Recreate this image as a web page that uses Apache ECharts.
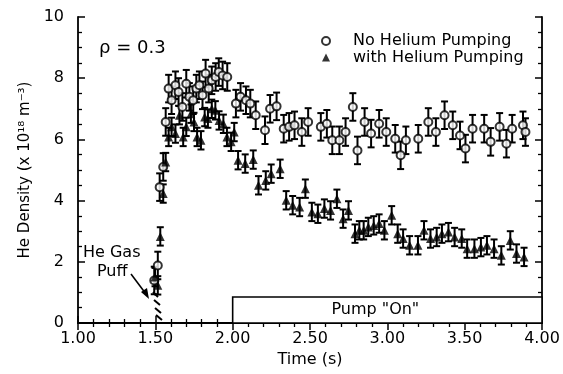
<!doctype html>
<html>
<head>
<meta charset="utf-8">
<title>He Density</title>
<script src="https://cdn.jsdelivr.net/npm/echarts@6/dist/echarts.min.js"></script>
<style>
    html, body { margin: 0; padding: 0; background: #fff; }
    #main { width: 563px; height: 374px; }
</style>
</head>
<body>
<div id="main"></div>
<script type="text/javascript">

    /* no helium pumping (open circles) */
    var noPumpTime = [1.493, 1.516, 1.528, 1.551, 1.567, 1.586, 1.605, 1.63, 1.65, 1.675, 1.70, 1.72, 1.745, 1.765, 1.785,
        1.805, 1.825, 1.845, 1.865, 1.89, 1.91, 1.935, 1.965, 2.021, 2.051, 2.086, 2.114, 2.149, 2.209, 2.242, 2.284,
        2.33, 2.365, 2.40, 2.447, 2.488, 2.57, 2.609, 2.644, 2.69, 2.73, 2.777, 2.807, 2.853, 2.895, 2.947, 2.993,
        3.051, 3.086, 3.12, 3.2, 3.265, 3.314, 3.37, 3.423, 3.47, 3.505, 3.551, 3.626, 3.668, 3.726, 3.77, 3.807,
        3.877, 3.893];
    var noPumpDens = [1.39, 1.88, 4.44, 5.1, 6.57, 7.66, 7.28, 7.77, 7.55, 7.06, 7.82, 7.39, 7.28, 7.66, 7.77,
        7.44, 8.15, 7.66, 7.93, 8.04, 8.2, 8.09, 8.04, 7.17, 7.39, 7.28, 7.17, 6.79, 6.30, 7.0, 7.08,
        6.35, 6.41, 6.46, 6.24, 6.57, 6.41, 6.51, 5.97, 5.97, 6.24, 7.06, 5.64, 6.57, 6.19, 6.51, 6.24,
        6.02, 5.48, 5.97, 6.02, 6.57, 6.24, 6.79, 6.46, 6.13, 5.70, 6.35, 6.35, 5.92, 6.41, 5.86, 6.35,
        6.46, 6.24];
    var noPumpErr = 0.45;

    /* with helium pumping (filled triangles) */
    var pumpTime = [1.498, 1.516, 1.532, 1.551, 1.567, 1.586, 1.605, 1.63, 1.656, 1.68, 1.70, 1.73, 1.75, 1.77, 1.795,
        1.819, 1.84, 1.865, 1.888, 1.912, 1.94, 1.963, 1.99, 2.01, 2.035, 2.081, 2.133, 2.167, 2.214, 2.249, 2.307,
        2.346, 2.388, 2.433, 2.47, 2.512, 2.551, 2.593, 2.633, 2.674, 2.714, 2.749, 2.791, 2.819, 2.847, 2.877, 2.912,
        2.947, 2.981, 3.028, 3.067, 3.102, 3.144, 3.198, 3.237, 3.279, 3.319, 3.353, 3.395, 3.435, 3.481, 3.516, 3.563,
        3.605, 3.644, 3.69, 3.737, 3.795, 3.835, 3.884];
    var pumpDens = [1.50, 1.23, 2.83, 4.23, 5.26, 6.08, 6.41, 6.19, 6.79, 6.08, 6.41, 6.84, 6.57, 6.08, 5.97,
        6.73, 6.68, 7.0, 6.95, 6.62, 6.51, 6.08, 5.92, 6.24, 5.32, 5.21, 5.34, 4.50, 4.66, 4.88, 5.04,
        4.01, 3.85, 3.79, 4.39, 3.63, 3.57, 3.74, 3.68, 4.06, 3.41, 3.68, 2.92, 3.03, 3.03, 3.14, 3.19,
        3.25, 3.03, 3.52, 2.92, 2.76, 2.54, 2.54, 3.03, 2.76, 2.81, 2.92, 2.97, 2.81, 2.76, 2.43, 2.43,
        2.48, 2.54, 2.43, 2.21, 2.70, 2.27, 2.16];
    var pumpErr = 0.3;

    var pumpOnStart = 2.0;
    var pumpOnEnd = 4.0;
    var pumpOnTop = 0.85;

    var font = 'DejaVu Sans, Verdana, sans-serif';

    function pairs(xs, ys) {
        var out = [];
        for (var i = 0; i < xs.length; i++) out.push([xs[i], ys[i]]);
        return out;
    }
    function errRows(xs, ys, e) {
        var out = [];
        for (var i = 0; i < xs.length; i++) out.push([xs[i], ys[i] - e, ys[i] + e]);
        return out;
    }
    function renderErr(params, api) {
        var lo = api.coord([api.value(0), api.value(1)]);
        var hi = api.coord([api.value(0), api.value(2)]);
        var w = 3.5;
        var st = { stroke: '#000', lineWidth: 2 };
        return {
            type: 'group',
            children: [
                { type: 'line', shape: { x1: hi[0], y1: hi[1], x2: lo[0], y2: lo[1] }, style: st },
                { type: 'line', shape: { x1: hi[0] - w, y1: hi[1], x2: hi[0] + w, y2: hi[1] }, style: st },
                { type: 'line', shape: { x1: lo[0] - w, y1: lo[1], x2: lo[0] + w, y2: lo[1] }, style: st }
            ]
        };
    }

    var dom = document.getElementById("main");
    var myChart = echarts.init(dom);

    var axisCommon = {
        axisLine: { lineStyle: { color: '#000', width: 1.8 } },
        axisTick: { inside: true, length: 7, lineStyle: { color: '#000', width: 1.5 } },
        minorTick: { show: true, length: 4, lineStyle: { color: '#000', width: 1.3 } },
        splitLine: { show: false }
    };

    var option = {
        animation: false,
        backgroundColor: '#fff',
        textStyle: { fontFamily: font, color: '#000' },
        grid: { left: 78, right: 21, top: 17, bottom: 51 },
        legend: {
            orient: 'vertical',
            left: 316,
            top: 28,
            itemWidth: 8,
            itemHeight: 8,
            itemGap: 0.5,
            data: ['No Helium Pumping', 'with Helium Pumping'],
            textStyle: { fontFamily: font, fontSize: 16, lineHeight: 16, color: '#000', padding: [0, 0, 0, 18] }
        },
        xAxis: [
            echarts.util.merge({
                type: 'value', min: 1, max: 4, interval: 0.5,
                minorTick: { splitNumber: 5 },
                name: 'Time (s)', nameLocation: 'middle', nameGap: 29,
                nameTextStyle: { fontFamily: font, fontSize: 16, color: '#000' },
                axisLabel: { fontFamily: font, fontSize: 16, color: '#000', margin: 8,
                    formatter: function (v) { return v.toFixed(2); } }
            }, axisCommon, false),
            echarts.util.merge({
                type: 'value', min: 1, max: 4, interval: 0.5, position: 'top',
                minorTick: { splitNumber: 5 },
                axisLabel: { show: false }
            }, axisCommon, false)
        ],
        yAxis: [
            echarts.util.merge({
                type: 'value', min: 0, max: 10, interval: 2,
                minorTick: { splitNumber: 4 },
                name: 'He Density (x 10\u00b9\u2078 m\u207b\u00b3)', nameLocation: 'middle', nameGap: 43,
                nameTextStyle: { fontFamily: font, fontSize: 15, color: '#000' },
                axisLabel: { fontFamily: font, fontSize: 16, color: '#000', margin: 14 }
            }, axisCommon, false),
            echarts.util.merge({
                type: 'value', min: 0, max: 10, interval: 2, position: 'right',
                minorTick: { splitNumber: 4 },
                axisLabel: { show: false }
            }, axisCommon, false)
        ],
        series: [
            {
                name: 'pumpOn',
                type: 'line',
                data: [],
                silent: true,
                markArea: {
                    silent: true,
                    itemStyle: { color: '#fff', borderColor: '#000', borderWidth: 1.6 },
                    label: { show: true, position: 'inside', offset: [-12, 0], fontFamily: font, fontSize: 16, color: '#000' },
                    data: [[{ name: 'Pump "On"', xAxis: pumpOnStart, yAxis: 0 }, { xAxis: pumpOnEnd, yAxis: pumpOnTop }]]
                }
            },
            {
                name: 'noPumpErr',
                type: 'custom',
                renderItem: renderErr,
                data: errRows(noPumpTime, noPumpDens, noPumpErr),
                z: 2
            },
            {
                name: 'pumpErr',
                type: 'custom',
                renderItem: renderErr,
                data: errRows(pumpTime, pumpDens, pumpErr),
                z: 2
            },
            {
                name: 'No Helium Pumping',
                type: 'scatter',
                symbol: 'circle',
                symbolSize: 8,
                itemStyle: { color: '#fff', borderColor: '#000', borderWidth: 2 },
                data: pairs(noPumpTime, noPumpDens),
                z: 3
            },
            {
                name: 'with Helium Pumping',
                type: 'scatter',
                symbol: 'triangle',
                symbolSize: 9,
                itemStyle: { color: '#000' },
                data: pairs(pumpTime, pumpDens),
                z: 4
            }
        ],
        graphic: [
            { type: 'text', left: 99, top: 39, style: { text: '\u03c1 = 0.3', font: '18px ' + font, fill: '#000' } },
            { type: 'text', left: 83, top: 245, style: { text: 'He Gas', font: '16px ' + font, fill: '#000' } },
            { type: 'text', left: 97, top: 264, style: { text: 'Puff', font: '16px ' + font, fill: '#000' } },
            { type: 'line', shape: { x1: 131, y1: 274, x2: 146, y2: 294 }, style: { stroke: '#000', lineWidth: 1.6 } },
            { type: 'polygon', shape: { points: [[149, 299], [141, 292], [147, 288]] }, style: { fill: '#000' } },
            { type: 'line', shape: { x1: 153, y1: 292, x2: 158, y2: 297 }, style: { stroke: '#000', lineWidth: 2 } },
            { type: 'line', shape: { x1: 154, y1: 300, x2: 160, y2: 305 }, style: { stroke: '#000', lineWidth: 2 } },
            { type: 'line', shape: { x1: 155, y1: 308, x2: 161, y2: 313 }, style: { stroke: '#000', lineWidth: 2 } },
            { type: 'line', shape: { x1: 156, y1: 315, x2: 162, y2: 320 }, style: { stroke: '#000', lineWidth: 2 } }
        ]
    };

    if (option && typeof option === "object") {
        myChart.setOption(option, true);
    }
</script>
</body>
</html>
